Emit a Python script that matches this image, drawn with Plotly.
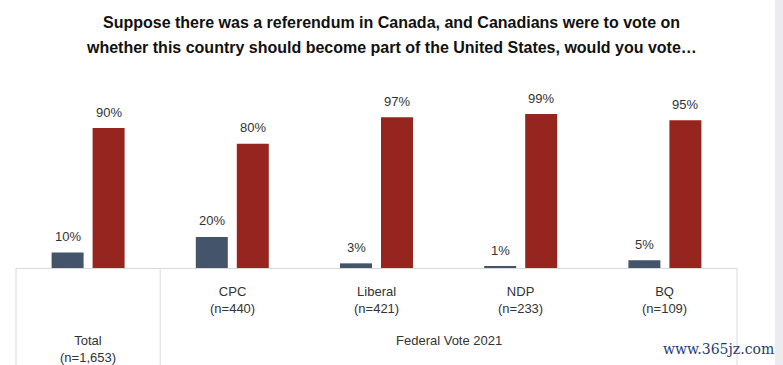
import plotly.graph_objects as go

# ---- data ----
categories = ["Total", "CPC", "Liberal", "NDP", "BQ"]
sample_sizes = ["(n=1,653)", "(n=440)", "(n=421)", "(n=233)", "(n=109)"]
vote_yes = [10, 20, 3, 1, 5]
vote_no = [90, 80, 97, 99, 95]
group_label = "Federal Vote 2021"
title_lines = [
    "Suppose there was a referendum in Canada, and Canadians were to vote on",
    "whether this country should become part of the United States, would you vote…",
]
watermark = "www.365jz.com"

# ---- styling / layout ----
W, H = 783, 365
L, R, T, B = 16, 46, 97, 97
PW, PH = W - L - R, H - T - B
cat_px = PW / len(categories)
bar_px = 32
bar_w = bar_px / cat_px
blue_off = -(20.5 + bar_px / 2) / cat_px
red_off = (20.5 - bar_px / 2) / cat_px
BLUE = "#44546A"
RED = "#962520"
LINE = "#D9D9D9"
TXT = "#333333"
TFONT = "Liberation Sans, Arial, sans-serif"
LFONT = "Liberation Sans, Arial, sans-serif"

fig = go.Figure()
fig.add_trace(go.Bar(x=categories, y=vote_yes, width=[bar_w] * len(categories),
                     offset=blue_off, marker=dict(color=BLUE, line=dict(width=0)),
                     hoverinfo="skip", showlegend=False))
fig.add_trace(go.Bar(x=categories, y=vote_no, width=[bar_w] * len(categories),
                     offset=red_off, marker=dict(color=RED, line=dict(width=0)),
                     hoverinfo="skip", showlegend=False))

ann = []
for series, off in ((vote_yes, blue_off), (vote_no, red_off)):
    for c, v in zip(categories, series):
        ann.append(dict(x=c, y=v, xref="x", yref="y", text=f"{v}%", showarrow=False,
                        xshift=(off + bar_w / 2) * cat_px, yshift=16, yanchor="middle",
                        font=dict(family=LFONT, size=13, color=TXT)))

# category labels
for i, (c, n) in enumerate(zip(categories, sample_sizes)):
    ys = -81 if i == 0 else -31.5
    ann.append(dict(x=c, y=0, xref="x", yref="y", text=f"{c}<br>{n}", showarrow=False,
                    yshift=ys, yanchor="middle", align="center",
                    font=dict(family=LFONT, size=13, color=TXT)))
ann.append(dict(x=0.6, y=0, xref="paper", yref="y", text=group_label, showarrow=False,
                yshift=-72, yanchor="middle", font=dict(family=LFONT, size=13, color=TXT)))

# title
for line, ys in zip(title_lines, (75, 50)):
    ann.append(dict(x=(W / 2 - L) / PW, y=1, xref="paper", yref="paper", text=f"<b>{line}</b>",
                    showarrow=False, yshift=ys, yanchor="middle", xanchor="center",
                    font=dict(family=TFONT, size=16, color="#111111")))

# watermark
ann.append(dict(x=(718 - L) / PW, y=0, xref="paper", yref="y", text=watermark, showarrow=False,
                yshift=-(349 - 268), yanchor="middle", xanchor="center",
                font=dict(family="DejaVu Serif, serif", size=14, color="#1F3C78")))

shapes = []
for xp in (0, 0.2, 1):
    shapes.append(dict(type="line", xref="paper", yref="paper", x0=xp, x1=xp,
                       y0=0, y1=-(B + 10) / PH, line=dict(color=LINE, width=1)))
# right grey strip
shapes.append(dict(type="rect", xref="paper", yref="paper",
                   x0=(775 - L) / PW, x1=(790 - L) / PW, y0=-(B + 5) / PH, y1=(T + 5 + PH) / PH,
                   fillcolor="#ECECEE", line=dict(width=0), layer="below"))

fig.update_layout(
    width=W, height=H, margin=dict(l=L, r=R, t=T, b=B, autoexpand=False),
    paper_bgcolor="white", plot_bgcolor="white", barmode="overlay",
    xaxis=dict(type="category", range=[-0.5, len(categories) - 0.5], showline=True,
               linecolor=LINE, linewidth=1, showticklabels=False, ticks="",
               showgrid=False, zeroline=False, fixedrange=True),
    yaxis=dict(range=[0, 110], visible=False, fixedrange=True),
    annotations=ann, shapes=shapes, showlegend=False,
)
fig.write_html("out.html", config={"displayModeBar": False},
               post_script="document.body.style.margin='0';document.body.style.overflow='hidden';")
